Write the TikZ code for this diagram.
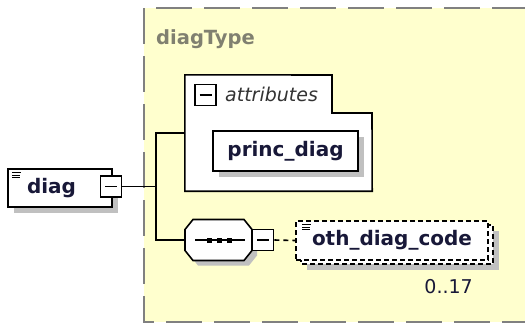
\documentclass[tikz,border=0pt]{standalone}
\usepackage{fontspec}
\setmainfont{DejaVu Sans}
\definecolor{yellowbg}{RGB}{255,255,206}
\definecolor{bordergray}{RGB}{128,128,128}
\definecolor{shadowgray}{RGB}{192,192,192}
\definecolor{typegray}{RGB}{128,128,112}
\definecolor{txtdark}{RGB}{24,24,56}
\begin{document}
\begin{tikzpicture}[x=1bp,y=-1bp,
  ln/.style={line width=1.6bp, draw=black},
  bigfont/.style={font=\fontsize{20bp}{22bp}\selectfont\bfseries},
  elembox/.style={ln, fill=white, bigfont, text=txtdark, inner sep=0pt},
  minusbox/.style={ln, fill=white, minimum width=21bp, minimum height=21bp, inner sep=0pt,
    path picture={\draw[line width=1.4bp] ([xshift=-6bp]path picture bounding box.center) -- ([xshift=6bp]path picture bounding box.center);}},
  optdash/.style={dash pattern=on 5bp off 3bp},
  plain/.style={inner sep=0pt},
  icon/.style={line width=1bp, black}
]
\useasboundingbox (0,0) rectangle (525,327);
% type area
\fill[yellowbg] (144,8) rectangle (525,322);
\draw[bordergray, line width=1.8bp, dash pattern=on 36bp off 12bp] (144,8) -- (144,322) -- (525,322);
\draw[bordergray, line width=1.8bp, dash pattern=on 36bp off 12bp, dash phase=36bp] (144,8) -- (525,8);
\node[plain, anchor=base west, font=\fontsize{19.5bp}{21bp}\selectfont\bfseries, text=typegray] (typename) at (156,44) {diagType};

% diag element
\fill[shadowgray] (14,175) rectangle (118,213);
\node[elembox, minimum width=104bp, minimum height=38bp, text width=66bp, align=left, inner xsep=19bp] (diag) at (60,188) {diag};
\draw[icon] (12,172.5) -- (21,172.5) (12,175) -- (20,175) (12,177.5) -- (20,177.5);
\node[minusbox] (diagminus) at (111,186.5) {};

% attributes group
\node[plain, minimum width=187bp, minimum height=116bp] (attr) at (278.5,133) {};
\draw[ln, fill=white] (attr.north west) -- (332,75) -- (332,113) -- (372,113) -- (attr.south east) -- (attr.south west) -- cycle;
\node[minusbox] (attrminus) at (205.5,95) {};
\node[plain, anchor=base west, font=\fontsize{19bp}{21bp}\selectfont\itshape, text=black!80] (attrlabel) at (225,101) {attributes};
\fill[shadowgray] (219,137) rectangle (364,177);
\node[elembox, minimum width=145bp, minimum height=40bp] (princ) at (285.5,151) {princ\_diag};

% sequence compositor
\node[plain, minimum width=67bp, minimum height=41bp] (seq) at (218.5,240) {};
\fill[shadowgray] (198,224.5) -- (249,224.5) -- (257,234.5) -- (257,255.5) -- (249,265.5) -- (198,265.5) -- (190,255.5) -- (190,234.5) -- cycle;
\draw[ln, fill=white] (193,219.5) -- (244,219.5) -- (252,229.5) -- (252,250.5) -- (244,260.5) -- (193,260.5) -- (185,250.5) -- (185,229.5) -- cycle;
\draw[ln] (195,240) -- (245,240);
\foreach \sx in {209.5,219.5,229.5} \fill[black] (\sx-2.5,237.5) rectangle (\sx+2.5,242.5);
\node[minusbox] (seqminus) at (263,240) {};

% oth_diag_code element (optional, repeated)
\fill[shadowgray] (307,231) rectangle (499,270);
\draw[ln, line width=1.4bp, optdash, fill=white] (301,225) rectangle (493,264);
\node[elembox, line width=1.4bp, optdash, minimum width=192bp, minimum height=39bp] (oth) at (392,240.5) {oth\_diag\_code};
\draw[icon] (302,224.5) -- (311,224.5) (302,227) -- (310,227) (302,229.5) -- (310,229.5);
\node[plain, anchor=base east, font=\fontsize{19bp}{21bp}\selectfont, text=txtdark] (card) at (473,293) {0..17};

% connectors
\coordinate (bus) at (156,186.5);
\draw[ln] (diagminus.east) -- (bus);
\draw[ln] (attr.west) -| (bus) |- (seq.west);
\draw[ln, dash pattern=on 5bp off 4bp] (seqminus.east) -- (oth.west);
\end{tikzpicture}
\end{document}
